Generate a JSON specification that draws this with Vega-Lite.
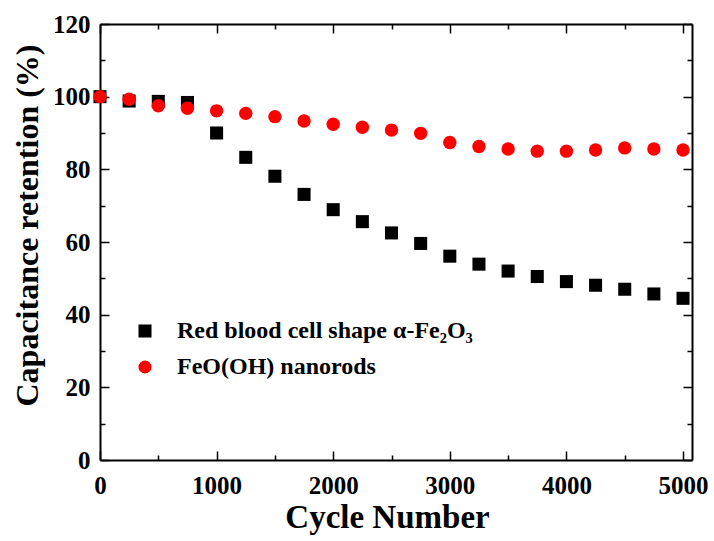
{
  "$schema": "https://vega.github.io/schema/vega-lite/v6.json",
  "width": 592,
  "height": 436,
  "autosize": {"type": "none"},
  "padding": {"left": 100, "top": 24, "right": 22, "bottom": 81},
  "background": "white",
  "config": {
    "view": {"stroke": null},
    "font": "Liberation Serif",
    "axis": {
      "domainColor": "black",
      "domainWidth": 2,
      "tickColor": "black",
      "tickWidth": 1.5,
      "grid": false,
      "labelFont": "Liberation Serif",
      "labelFontWeight": "bold",
      "labelFontSize": 25,
      "labelColor": "black",
      "titleFont": "Liberation Serif",
      "titleFontWeight": "bold",
      "titleColor": "black"
    }
  },
  "data": {
    "values": [
      {"series": "Red blood cell shape α-Fe₂O₃", "cycle": 0, "retention": 100},
      {"series": "Red blood cell shape α-Fe₂O₃", "cycle": 250, "retention": 98.8},
      {"series": "Red blood cell shape α-Fe₂O₃", "cycle": 500, "retention": 98.7},
      {"series": "Red blood cell shape α-Fe₂O₃", "cycle": 750, "retention": 98.4},
      {"series": "Red blood cell shape α-Fe₂O₃", "cycle": 1000, "retention": 90.0},
      {"series": "Red blood cell shape α-Fe₂O₃", "cycle": 1250, "retention": 83.3},
      {"series": "Red blood cell shape α-Fe₂O₃", "cycle": 1500, "retention": 78.1},
      {"series": "Red blood cell shape α-Fe₂O₃", "cycle": 1750, "retention": 73.1},
      {"series": "Red blood cell shape α-Fe₂O₃", "cycle": 2000, "retention": 68.9},
      {"series": "Red blood cell shape α-Fe₂O₃", "cycle": 2250, "retention": 65.6},
      {"series": "Red blood cell shape α-Fe₂O₃", "cycle": 2500, "retention": 62.5},
      {"series": "Red blood cell shape α-Fe₂O₃", "cycle": 2750, "retention": 59.6},
      {"series": "Red blood cell shape α-Fe₂O₃", "cycle": 3000, "retention": 56.1},
      {"series": "Red blood cell shape α-Fe₂O₃", "cycle": 3250, "retention": 53.9},
      {"series": "Red blood cell shape α-Fe₂O₃", "cycle": 3500, "retention": 52.0},
      {"series": "Red blood cell shape α-Fe₂O₃", "cycle": 3750, "retention": 50.5},
      {"series": "Red blood cell shape α-Fe₂O₃", "cycle": 4000, "retention": 49.1},
      {"series": "Red blood cell shape α-Fe₂O₃", "cycle": 4250, "retention": 48.1},
      {"series": "Red blood cell shape α-Fe₂O₃", "cycle": 4500, "retention": 47.0},
      {"series": "Red blood cell shape α-Fe₂O₃", "cycle": 4750, "retention": 45.7},
      {"series": "Red blood cell shape α-Fe₂O₃", "cycle": 5000, "retention": 44.5},
      {"series": "FeO(OH) nanorods", "cycle": 0, "retention": 100},
      {"series": "FeO(OH) nanorods", "cycle": 250, "retention": 99.3},
      {"series": "FeO(OH) nanorods", "cycle": 500, "retention": 97.5},
      {"series": "FeO(OH) nanorods", "cycle": 750, "retention": 96.8},
      {"series": "FeO(OH) nanorods", "cycle": 1000, "retention": 96.1},
      {"series": "FeO(OH) nanorods", "cycle": 1250, "retention": 95.4},
      {"series": "FeO(OH) nanorods", "cycle": 1500, "retention": 94.5},
      {"series": "FeO(OH) nanorods", "cycle": 1750, "retention": 93.3},
      {"series": "FeO(OH) nanorods", "cycle": 2000, "retention": 92.4},
      {"series": "FeO(OH) nanorods", "cycle": 2250, "retention": 91.6},
      {"series": "FeO(OH) nanorods", "cycle": 2500, "retention": 90.8},
      {"series": "FeO(OH) nanorods", "cycle": 2750, "retention": 89.9},
      {"series": "FeO(OH) nanorods", "cycle": 3000, "retention": 87.4},
      {"series": "FeO(OH) nanorods", "cycle": 3250, "retention": 86.3},
      {"series": "FeO(OH) nanorods", "cycle": 3500, "retention": 85.6},
      {"series": "FeO(OH) nanorods", "cycle": 3750, "retention": 85.0},
      {"series": "FeO(OH) nanorods", "cycle": 4000, "retention": 85.0},
      {"series": "FeO(OH) nanorods", "cycle": 4250, "retention": 85.3},
      {"series": "FeO(OH) nanorods", "cycle": 4500, "retention": 85.9},
      {"series": "FeO(OH) nanorods", "cycle": 4750, "retention": 85.6},
      {"series": "FeO(OH) nanorods", "cycle": 5000, "retention": 85.3}
    ]
  },
  "resolve": {"axis": {"x": "independent", "y": "independent"}},
  "layer": [
    {
      "transform": [{"filter": "datum.series === 'Red blood cell shape α-Fe₂O₃'"}],
      "mark": {"type": "point", "filled": true, "size": 170, "opacity": 1},
      "encoding": {
        "x": {
          "field": "cycle", "type": "quantitative",
          "scale": {"domain": [0, 5077], "nice": false, "zero": false},
          "axis": {
            "orient": "bottom",
            "values": [0, 500, 1000, 1500, 2000, 2500, 3000, 3500, 4000, 4500, 5000],
            "labelExpr": "datum.value % 1000 === 0 ? datum.label : ''",
            "format": "d",
            "tickSize": {"condition": {"test": "datum.value % 1000 === 0", "value": -9}, "value": -5},
            "labelPadding": 42,
            "labelBaseline": "alphabetic",
            "labelFont": "Liberation Serif",
            "labelFontWeight": "bold",
            "labelFlush": false,
            "title": "Cycle Number",
            "titleFontSize": 33,
            "titleX": 287,
            "titleY": 67,
            "titleAlign": "center",
            "titleBaseline": "alphabetic"
          }
        },
        "y": {
          "field": "retention", "type": "quantitative",
          "scale": {"domain": [0, 120], "nice": false, "zero": false},
          "axis": {
            "orient": "left",
            "values": [0, 10, 20, 30, 40, 50, 60, 70, 80, 90, 100, 110, 120],
            "labelExpr": "datum.value % 20 === 0 ? datum.label : ''",
            "tickSize": {"condition": {"test": "datum.value % 20 === 0", "value": -9}, "value": -5},
            "labelPadding": 19,
            "labelBaseline": "middle",
            "labelFont": "Liberation Serif",
            "labelFontWeight": "bold",
            "labelFlush": false,
            "title": "Capacitance retention (%)",
            "titleFontSize": 32,
            "titleX": -63,
            "titleY": 201,
            "titleAngle": -90,
            "titleAlign": "center",
            "titleBaseline": "alphabetic"
          }
        },
        "color": {
          "field": "series", "type": "nominal",
          "scale": {"domain": ["Red blood cell shape α-Fe₂O₃", "FeO(OH) nanorods"], "range": ["#000000", "#ff0000"]},
          "legend": {
            "title": null,
            "orient": "none",
            "legendX": 33,
            "legendY": 295,
            "labelFont": "Liberation Serif",
            "labelFontSize": 24,
            "labelFontWeight": "bold",
            "labelColor": "black",
            "labelLimit": 0,
            "symbolSize": 170,
            "symbolStrokeWidth": 0,
            "symbolOpacity": 1,
            "labelOffset": 20,
            "rowPadding": 12
          }
        },
        "shape": {
          "field": "series", "type": "nominal",
          "scale": {"domain": ["Red blood cell shape α-Fe₂O₃", "FeO(OH) nanorods"], "range": ["square", "circle"]},
          "legend": {
            "title": null,
            "orient": "none",
            "legendX": 33,
            "legendY": 295,
            "labelFont": "Liberation Serif",
            "labelFontSize": 24,
            "labelFontWeight": "bold",
            "labelColor": "black",
            "labelLimit": 0,
            "symbolSize": 170,
            "symbolStrokeWidth": 0,
            "symbolOpacity": 1,
            "labelOffset": 20,
            "rowPadding": 12
          }
        }
      }
    },
    {
      "transform": [{"filter": "datum.series === 'FeO(OH) nanorods'"}],
      "mark": {"type": "point", "filled": true, "size": 180, "opacity": 1},
      "encoding": {
        "x": {
          "field": "cycle", "type": "quantitative",
          "axis": {
            "orient": "top",
            "values": [0, 500, 1000, 1500, 2000, 2500, 3000, 3500, 4000, 4500, 5000],
            "labels": false,
            "title": null,
            "tickSize": {"condition": {"test": "datum.value % 1000 === 0", "value": -9}, "value": -5}
          }
        },
        "y": {
          "field": "retention", "type": "quantitative",
          "axis": {
            "orient": "right",
            "values": [0, 10, 20, 30, 40, 50, 60, 70, 80, 90, 100, 110, 120],
            "labels": false,
            "title": null,
            "tickSize": {"condition": {"test": "datum.value % 20 === 0", "value": -9}, "value": -5}
          }
        },
        "color": {"field": "series", "type": "nominal"},
        "shape": {"field": "series", "type": "nominal"}
      }
    }
  ]
}
